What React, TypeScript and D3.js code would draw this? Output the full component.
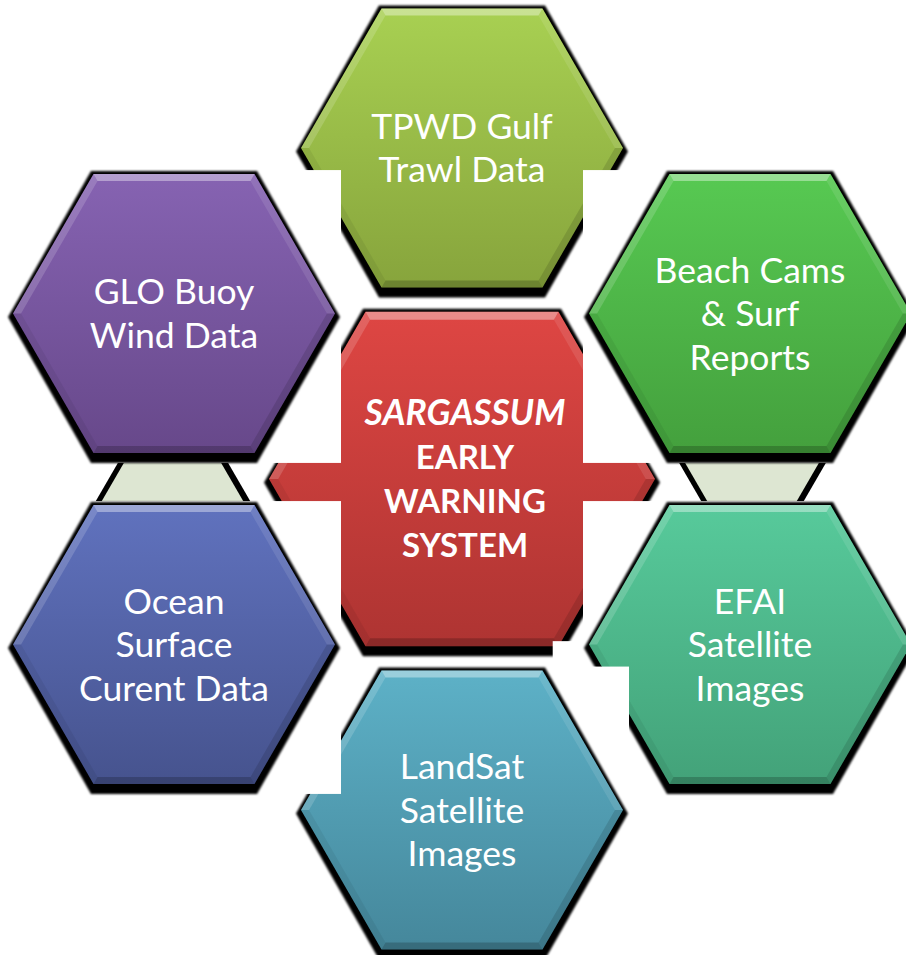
import * as d3 from "d3";

// outer cells, listed in paint order (later ones sit on top of earlier ones)
const labels = [
  ["TPWD Gulf", "Trawl Data"],
  ["GLO Buoy", "Wind Data"],
  ["Beach Cams", "& Surf", "Reports"],
  ["EFAI", "Satellite", "Images"],
  ["LandSat", "Satellite", "Images"],
  ["Ocean", "Surface", "Curent Data"],
];
const cols = [1, 0, 2, 2, 1, 0];
const rows = [0, 1, 1, 3, 4, 3];
const topColors = ["#a8d052", "#8663b2", "#57c952", "#57ca9b", "#5db1c7", "#6072be"];
const bottomColors = ["#87a43c", "#67488a", "#44a03d", "#43a279", "#45879b", "#46538e"];

const centerLabel = ["SARGASSUM", "EARLY", "WARNING", "SYSTEM"];
const centerTop = "#de4643";
const centerBottom = "#ae3432";
const connectorColor = "#dde6d2";

const W = 906;
const H = 955;
const R = 161;
const RC = 193;
const SQ = Math.sqrt(3) / 2;

const x = d3.scaleLinear().domain([0, 2]).range([174, 750]);
const y = d3.scaleLinear().domain([0, 4]).range([148, 810]);

const hex = (cx: number, cy: number, rx: number, ry: number) =>
  d3.range(6).map((i) => {
    const a = (Math.PI / 3) * i;
    return [cx + rx * Math.cos(a), cy + (ry / SQ) * Math.sin(a)] as [number, number];
  });

const poly = (pts: [number, number][]) => pts.map((p) => p.join(",")).join(" ");

// bevel facet overlays: lower-right, bottom, lower-left, upper-left, top, upper-right
const facetFill = ["#000", "#000", "#000", "#fff", "#fff", "#fff"];
const facetOpacity = [0.12, 0.2, 0.06, 0.16, 0.38, 0.1];

function Hexagon({ cx, cy, r, top, bottom, id, bevel }: any) {
  const h = r * SQ;
  const outer = hex(cx, cy, r, h);
  const inner = hex(cx, cy, r - bevel * 1.15, h - bevel);
  const shadow = hex(cx, cy + 3.5, r + 5, h + 6.5);
  return (
    <g>
      <defs>
        <linearGradient id={id} x1="0" y1="0" x2="0" y2="1">
          <stop offset="0" stopColor={top} />
          <stop offset="1" stopColor={bottom} />
        </linearGradient>
      </defs>
      <polygon points={poly(shadow)} fill="#000" filter="url(#blur)" />
      <polygon points={poly(outer)} fill={`url(#${id})`} />
      {d3.range(6).map((i) => (
        <polygon
          key={i}
          points={poly([outer[i], outer[(i + 1) % 6], inner[(i + 1) % 6], inner[i]])}
          fill={facetFill[i]}
          fillOpacity={facetOpacity[i]}
        />
      ))}
    </g>
  );
}

export default function App() {
  const cxc = x(1);
  const cyc = y(2);
  const hc = RC * SQ;
  const hOut = R * SQ;
  const pad = { l: 6, r: 6, t: 4, b: 10 };
  const boxOf = (i: number) => ({
    x0: x(cols[i]) - R - pad.l,
    x1: x(cols[i]) + R + pad.r,
    y0: y(rows[i]) - hOut - pad.t,
    y1: y(rows[i]) + hOut + pad.b,
  });

  // connectors between the side cells (left one widens downward, right one narrows)
  const cy0 = y(1) + hOut;
  const cy1 = y(3) - hOut;
  const slope = 1 / Math.tan(Math.PI / 3);
  const connectors = [
    { cx: x(0) - 1.5, half: 47.5, dir: 1 },
    { cx: x(2) + 2, half: 68, dir: -1 },
  ].map((c) => {
    const yt = cy0 + 8;
    const yb = cy1 - 3;
    const hb = c.half + c.dir * (yb - yt) * slope;
    return { ...c, yt, yb, hb };
  });

  const lineH = 43.5;
  const fs = 35.5;
  const landBox = boxOf(4);
  const efaiBox = boxOf(3);

  return (
    <svg width={W} height={H} style={{ position: "absolute", left: 0, top: 0, background: "#fff" }}>
      <defs>
        <filter id="blur" x="-10%" y="-10%" width="120%" height="120%">
          <feGaussianBlur stdDeviation="1.2" />
        </filter>
      </defs>
      <rect width={W} height={H} fill="#fff" />

      <Hexagon cx={cxc} cy={cyc} r={RC} top={centerTop} bottom={centerBottom} id="gc" bevel={8} />

      {connectors.map((c, i) => (
        <g key={i}>
          <polygon
            points={poly([
              [c.cx - c.half - 6, c.yt],
              [c.cx + c.half + 7, c.yt],
              [c.cx + c.hb + 7, c.yb],
              [c.cx - c.hb - 6, c.yb],
            ])}
            fill="#000"
          />
          <polygon
            points={poly([
              [c.cx - c.half, c.yt],
              [c.cx + c.half, c.yt],
              [c.cx + c.hb, c.yb],
              [c.cx - c.hb, c.yb],
            ])}
            fill={connectorColor}
          />
        </g>
      ))}

      {labels.map((lines, i) => {
        const b = boxOf(i);
        const cx = x(cols[i]);
        const cy = y(rows[i]);
        return (
          <g key={i}>
            {i === 3 && (
              <rect
                x={cxc + RC * 0.47}
                y={cyc + hc - 5}
                width={efaiBox.x0 - (cxc + RC * 0.47)}
                height={landBox.y0 - (cyc + hc - 5)}
                fill="#fff"
              />
            )}
            <rect x={b.x0} y={b.y0} width={b.x1 - b.x0} height={b.y1 - b.y0} fill="#fff" />
            <Hexagon cx={cx} cy={cy} r={R} top={topColors[i]} bottom={bottomColors[i]} id={`g${i}`} bevel={7} />
            <text
              fill="#fff"
              fontFamily="Lato, 'Open Sans', sans-serif"
              fontSize={fs}
              textAnchor="middle"
            >
              {lines.map((t, j) => (
                <tspan key={j} x={cx} y={cy + (j - (lines.length - 1) / 2) * lineH + 12.5}>
                  {t}
                </tspan>
              ))}
            </text>
          </g>
        );
      })}

      <text fill="#fff" fontFamily="Lato, 'Open Sans', sans-serif" fontWeight="bold" textAnchor="middle">
        {centerLabel.map((t, j) => (
          <tspan
            key={j}
            x={cxc + 3}
            y={cyc + (j - 1.5) * 44 + 12}
            fontSize={j === 0 ? 35.5 : 33}
            fontStyle={j === 0 ? "italic" : "normal"}
          >
            {t}
          </tspan>
        ))}
      </text>
    </svg>
  );
}
